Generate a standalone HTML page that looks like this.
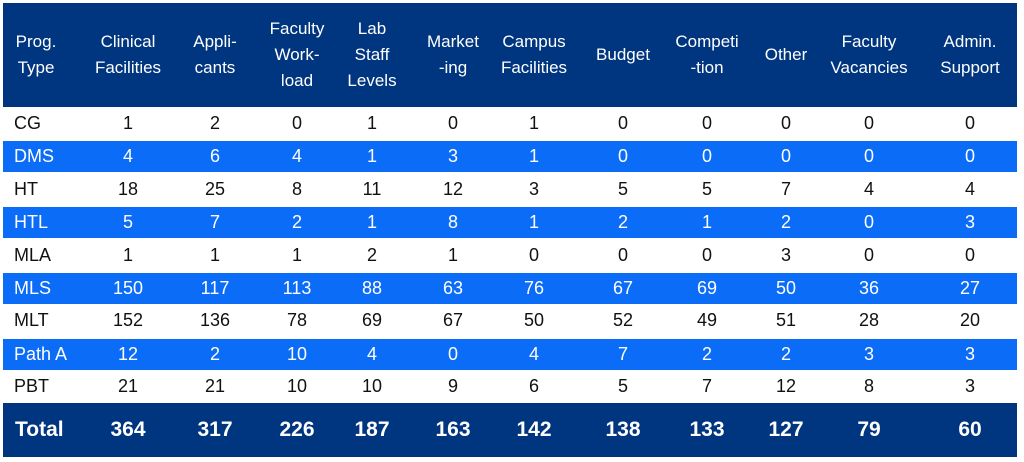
<!DOCTYPE html>
<html><head><style>
body{margin:0;width:1024px;height:462px;background:#fff;font-family:"Liberation Sans",sans-serif;position:relative;overflow:hidden}
.r{position:absolute;left:3px;width:1014px}
.c{position:absolute;transform:translateX(-50%);text-align:center;white-space:nowrap}
.l{position:absolute;left:11px}
</style></head><body>
<div id="t"></div>
<script>
const cx=[128,215,297,372,453,534,623,707,786,869,970];
const hdr=[["Clinical","Facilities"],["Appli-","cants"],["Faculty","Work-","load"],["Lab","Staff","Levels"],["Market","-ing"],["Campus","Facilities"],["Budget"],["Competi","-tion"],["Other"],["Faculty","Vacancies"],["Admin.","Support"]];
const rows=[["CG",1,2,0,1,0,1,0,0,0,0,0],["DMS",4,6,4,1,3,1,0,0,0,0,0],["HT",18,25,8,11,12,3,5,5,7,4,4],["HTL",5,7,2,1,8,1,2,1,2,0,3],["MLA",1,1,1,2,1,0,0,0,3,0,0],["MLS",150,117,113,88,63,76,67,69,50,36,27],["MLT",152,136,78,69,67,50,52,49,51,28,20],["Path A",12,2,10,4,0,4,7,2,2,3,3],["PBT",21,21,10,10,9,6,5,7,12,8,3]];
const tot=[364,317,226,187,163,142,138,133,127,79,60];
let h='<div class="r" style="top:3px;height:104px;background:#00357f;color:#fff;font-size:17px;line-height:26px">';
const hc=(lines,x)=>{const top=(104-lines.length*26)/2;return `<div class="c" style="left:${x-3}px;top:${top}px">${lines.join('<br>')}</div>`};
h+=`<div style="position:absolute;left:${36-3}px;top:26px;transform:translateX(-50%);text-align:center">Prog.<br>Type</div>`;
hdr.forEach((l,i)=>h+=hc(l,cx[i]));
h+='</div>';
rows.forEach((r,i)=>{const top=107+i*32.9;const blue=i%2==1;
h+=`<div class="r" style="top:${top}px;height:${blue?31:32.9}px;${blue?'margin-top:1.5px;':''}background:${blue?'#0b6cf7':'#fff'};color:${blue?'#fff':'#111'};font-size:18px;line-height:${blue?31:32.9}px">`;
h+=`<div class="l">${r[0]}</div>`;
for(let j=1;j<12;j++)h+=`<div class="c" style="left:${cx[j-1]-3}px">${r[j]}</div>`;
h+='</div>';});
h+='<div class="r" style="top:403px;height:54px;background:#00357f;color:#fff;font-size:21px;font-weight:bold;line-height:54px"><div class="l" style="left:12px">Total</div>';
tot.forEach((v,i)=>h+=`<div class="c" style="left:${cx[i]-3}px">${v}</div>`);
h+='</div>';
document.getElementById('t').innerHTML=h;
</script>
</body></html>
